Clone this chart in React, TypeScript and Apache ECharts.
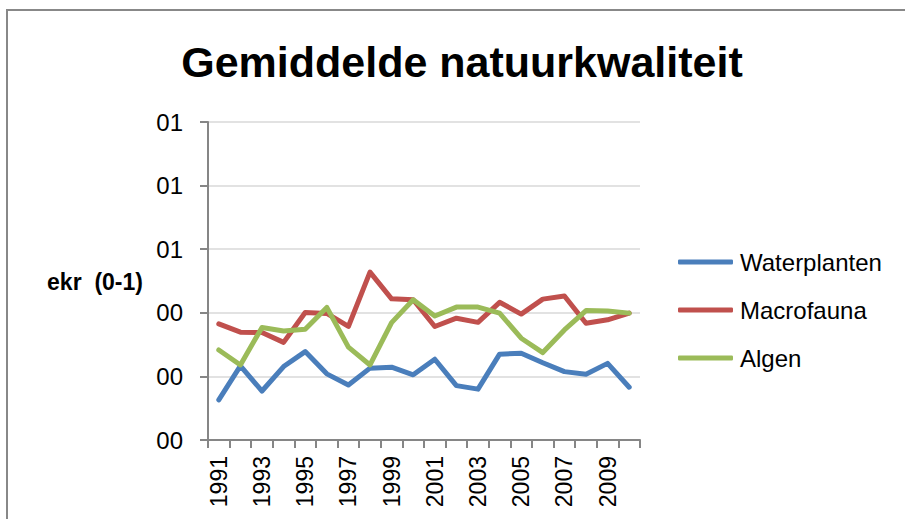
import React, { useEffect, useRef } from "react";
import * as echarts from "echarts";

const years = ["1991","1992","1993","1994","1995","1996","1997","1998","1999","2000","2001","2002","2003","2004","2005","2006","2007","2008","2009","2010"];
const waterplanten = [0.126,0.233,0.154,0.231,0.278,0.208,0.173,0.226,0.229,0.205,0.254,0.171,0.160,0.270,0.273,0.243,0.215,0.207,0.241,0.166];
const macrofauna = [0.365,0.339,0.338,0.307,0.401,0.398,0.357,0.528,0.444,0.441,0.357,0.383,0.370,0.433,0.396,0.443,0.453,0.367,0.378,0.399];
const algen = [0.283,0.236,0.354,0.343,0.348,0.417,0.292,0.236,0.369,0.441,0.390,0.418,0.418,0.399,0.320,0.275,0.346,0.407,0.406,0.399];
const yTickLabels = ["00","00","00","01","01","01"];

export default function App() {
  const ref = useRef<HTMLDivElement>(null);
  useEffect(() => {
    document.body.style.margin = "0";
    const chart = echarts.init(ref.current!, undefined, { renderer: "svg" });
    const font = "'Liberation Sans', Arial, sans-serif";
    chart.setOption({
      animation: false,
      backgroundColor: "#ffffff",
      title: {
        text: "Gemiddelde natuurkwaliteit",
        left: 457,
        top: 35,
        textAlign: "center",
        textStyle: { fontFamily: font, fontWeight: "bold", fontSize: 43, color: "#000000" },
      },
      graphic: [
        {
          type: "rect",
          shape: { x: 7, y: 10, width: 1000, height: 1000 },
          style: { fill: "none", stroke: "#888888", lineWidth: 2 },
          silent: true,
        },
        {
          type: "text",
          x: 95,
          y: 282,
          style: {
            text: "ekr  (0-1)",
            fontFamily: font,
            fontWeight: "bold",
            fontSize: 23,
            fill: "#000000",
            textAlign: "center",
            textVerticalAlign: "middle",
          },
        },
      ],
      legend: {
        orient: "vertical",
        left: 678,
        top: 250,
        padding: 0,
        itemWidth: 55,
        itemHeight: 5,
        itemGap: 24,
        icon: "roundRect",
        data: ["Waterplanten", "Macrofauna", "Algen"],
        textStyle: { fontFamily: font, fontSize: 24, color: "#000000", padding: [0, 0, 0, 2] },
      },
      grid: { left: 208, right: 265, top: 122, bottom: 79 },
      xAxis: {
        type: "category",
        data: years,
        boundaryGap: true,
        axisLine: { lineStyle: { color: "#868686", width: 2 } },
        axisTick: { show: true, interval: 0, length: 8, lineStyle: { color: "#868686", width: 2 } },
        axisLabel: { interval: 1, rotate: 90, margin: 16, fontFamily: font, fontSize: 23, color: "#000000" },
        splitLine: { show: false },
      },
      yAxis: {
        type: "value",
        min: 0,
        max: 1,
        interval: 0.2,
        axisLine: { show: true, lineStyle: { color: "#868686", width: 2 } },
        axisTick: { show: true, length: 8, lineStyle: { color: "#868686", width: 2 } },
        axisLabel: {
          margin: 25,
          fontFamily: font,
          fontSize: 24,
          color: "#000000",
          formatter: (v: number) => yTickLabels[Math.round(v / 0.2)] ?? "",
        },
        splitLine: { show: true, lineStyle: { color: "#d9d9d9", width: 1.5 } },
      },
      series: [
        { name: "Waterplanten", type: "line", data: waterplanten, symbol: "none", color: "#4a7ebb", lineStyle: { width: 5, color: "#4a7ebb", cap: "round", join: "round" } },
        { name: "Macrofauna", type: "line", data: macrofauna, symbol: "none", color: "#c0504d", lineStyle: { width: 5, color: "#c0504d", cap: "round", join: "round" } },
        { name: "Algen", type: "line", data: algen, symbol: "none", color: "#9bbb59", lineStyle: { width: 5, color: "#9bbb59", cap: "round", join: "round" } },
      ],
    });
    return () => chart.dispose();
  }, []);
  return <div ref={ref} style={{ position: "fixed", left: 0, top: 0, width: 905, height: 519 }} />;
}
